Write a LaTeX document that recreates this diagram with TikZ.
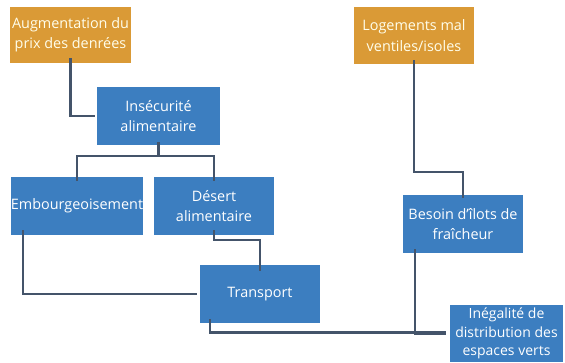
\documentclass[tikz,border=0pt]{standalone}
\usepackage{fontspec}
\setmainfont{Open Sans}
\definecolor{boxblue}{HTML}{3C7EC0}
\definecolor{boxorange}{HTML}{DA9A36}
\definecolor{linecol}{HTML}{44546A}
\begin{document}
\begin{tikzpicture}[x=1pt,y=-1pt,
  bx/.style={fill=boxblue,text=white,inner sep=0pt,align=center,
    font=\fontsize{14.4}{20.5}\selectfont,minimum height=58pt},
  ox/.style={bx,fill=boxorange,text=white!92!yellow},
  conn/.style={draw=linecol,line width=2.2pt}]
\useasboundingbox[fill=white] (0,0) rectangle (565,362);
\node[ox,minimum width=121pt,minimum height=56pt] (A) at (70.5,35) {Augmentation du\\prix des denrées};
\node[ox,minimum width=120pt,minimum height=57pt] (L) at (414,35.5) {Logements mal\\ventiles/isoles};
\node[bx,minimum width=123pt] (I) at (158.5,116) {Insécurité\\alimentaire};
\node[bx,minimum width=132pt] (E) at (77,206) {Embourgeoisement};
\node[bx,minimum width=120pt] (D) at (214,206) {Désert\\alimentaire};
\node[bx,minimum width=120pt] (T) at (260,294) {Transport};
\node[bx,minimum width=120pt] (B) at (463,224) {Besoin d'îlots de\\fraîcheur};
\node[bx,minimum width=113pt,minimum height=57pt,font=\fontsize{14}{18.5}\selectfont] (G) at (506.5,333.5) {Inégalité de\\distribution des\\espaces verts};
% connectors
\draw[conn] ([yshift=5pt]A.south) |- ([xshift=-2pt]I.west);
\draw[conn] ([yshift=3pt]I.south) -- ++(0,14) coordinate (j);
\draw[conn] ([yshift=-4pt]E.north) |- (j) -| ([yshift=-4pt]D.north);
\draw[conn] ([xshift=12pt,yshift=5pt]E.south west) |- ([xshift=-3pt]T.west);
\draw[conn] ([yshift=5pt]D.south) -- ++(0,10) -| ([yshift=-6pt]T.north);
\draw[conn] ([yshift=4pt]L.south) -- ++(0,112) -| ([yshift=-3pt]B.north);
\draw[conn] ([xshift=12pt,yshift=4pt]B.south west) |- ([xshift=-4pt]G.west);
\draw[conn] ([xshift=10pt,yshift=4pt]T.south west) |- ([xshift=-4pt,yshift=1pt]G.west);
\end{tikzpicture}
\end{document}
